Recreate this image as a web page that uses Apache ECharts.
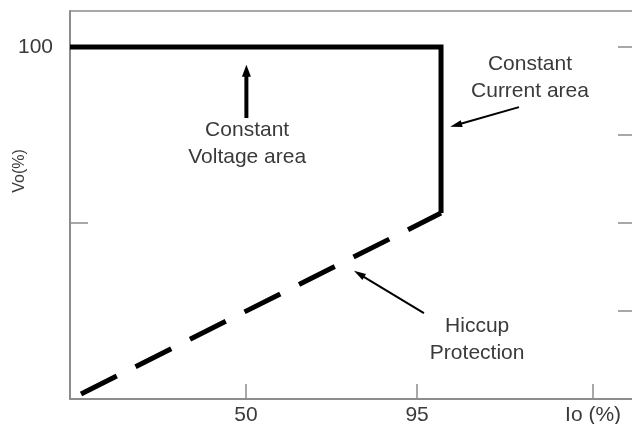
<!DOCTYPE html>
<html>
<head>
<meta charset="utf-8">
<script src="https://cdn.jsdelivr.net/npm/echarts@6/dist/echarts.min.js"></script>
<style>
  html, body { margin: 0; padding: 0; background: #fff; }
  #chart { width: 632px; height: 424px; }
</style>
</head>
<body>
<div id="chart"></div>
<script>
// Output characteristic: constant voltage, constant current, hiccup
const xTickValues = [50, 95, 141.3];
const xTickLabels = ['50', '95', 'Io (%)'];
const yLeftTicks = [50, 100];
const yLabelValues = [100];
const yRightTicks = [25, 50, 75, 100];

// Io (%) , Vo (%)
const cvCurve = [[3.7, 100], [101.3, 100], [101.3, 52.8]];
const hiccupCurve = [[6.6, 1.4], [101.3, 52.8]];

// Arrows: from (x1, y1) to tip (x2, y2), shaft width
const arrows = [
  [50.1, 79.8, 50.1, 94.9, 4],
  [121.8, 82.9, 103.7, 77.3, 2],
  [96.8, 24.4, 78.4, 36.4, 2]
];
// Callout texts at (x, y)
const notes = [
  [50.3, 72.4, 'Constant\nVoltage area'],
  [124.7, 91.2, 'Constant\nCurrent area'],
  [110.8, 16.8, 'Hiccup\nProtection']
];

const FONT = '"Liberation Sans", Arial, sans-serif';
const TEXT = '#3a3a3a';
const AXIS = '#8c8c8c';

const chart = echarts.init(document.getElementById('chart'));

chart.setOption({
  animation: false,
  backgroundColor: '#fff',
  grid: {
    left: 70, top: 11, width: 563, height: 388,
    outerBoundsMode: 'none', containLabel: false,
    show: true, borderColor: AXIS, borderWidth: 1.5, backgroundColor: 'transparent'
  },
  xAxis: {
    type: 'value', min: 3.7, max: 151.8,
    splitLine: { show: false },
    axisLine: { lineStyle: { color: AXIS, width: 2 } },
    axisTick: { inside: true, length: 15, customValues: xTickValues, lineStyle: { color: AXIS, width: 1.5 } },
    axisLabel: {
      customValues: xTickValues,
      formatter: v => xTickLabels[xTickValues.indexOf(v)] ?? '',
      color: TEXT, fontFamily: FONT, fontSize: 21, margin: 6
    }
  },
  yAxis: [
    {
      type: 'value', min: 0, max: 110.2, position: 'left',
      splitLine: { show: false },
      axisLine: { lineStyle: { color: AXIS, width: 2 } },
      axisTick: { inside: true, length: 18, customValues: yLeftTicks, lineStyle: { color: AXIS, width: 1.5 } },
      axisLabel: {
        customValues: yLabelValues,
        color: TEXT, fontFamily: FONT, fontSize: 21, margin: 17
      }
    },
    {
      type: 'value', min: 0, max: 110.2, position: 'right',
      splitLine: { show: false },
      axisLine: { show: false },
      axisTick: { inside: true, length: 15, customValues: yRightTicks, lineStyle: { color: AXIS, width: 1.5 } },
      axisLabel: { show: false }
    }
  ],
  graphic: [{
    type: 'text', x: 20, y: 171, rotation: Math.PI / 2,
    style: { text: 'Vo(%)', fill: TEXT, font: '16px ' + FONT, align: 'center', verticalAlign: 'middle' }
  }],
  series: [
    {
      type: 'line', data: cvCurve, symbol: 'none', silent: true,
      lineStyle: { color: '#000', width: 5, join: 'miter' }
    },
    {
      type: 'line', data: hiccupCurve, symbol: 'none', silent: true,
      lineStyle: { color: '#000', width: 5, type: [40, 21], cap: 'butt' }
    },
    {
      type: 'custom', data: arrows, silent: true,
      encode: { x: [0, 2], y: [1, 3] },
      renderItem: (params, api) => {
        const p1 = api.coord([api.value(0), api.value(1)]);
        const p2 = api.coord([api.value(2), api.value(3)]);
        const w = api.value(4);
        const dx = p2[0] - p1[0], dy = p2[1] - p1[1];
        const len = Math.hypot(dx, dy);
        const ux = dx / len, uy = dy / len;
        const headL = 12, headW = w > 3 ? 4.5 : 3.5;
        const bx = p2[0] - ux * headL, by = p2[1] - uy * headL;
        return {
          type: 'group',
          children: [
            { type: 'line', shape: { x1: p1[0], y1: p1[1], x2: bx + ux, y2: by + uy },
              style: { stroke: '#000', lineWidth: w } },
            { type: 'polygon', shape: { points: [
                p2,
                [bx - uy * headW, by + ux * headW],
                [bx + uy * headW, by - ux * headW]
              ] }, style: { fill: '#000' } }
          ]
        };
      }
    },
    {
      type: 'custom', data: notes, silent: true,
      encode: { x: 0, y: 1 },
      renderItem: (params, api) => {
        const p = api.coord([api.value(0), api.value(1)]);
        return {
          type: 'text', x: p[0], y: p[1],
          style: {
            text: notes[params.dataIndex][2], fill: TEXT,
            font: '21px ' + FONT, lineHeight: 27,
            align: 'center', verticalAlign: 'middle'
          }
        };
      }
    }
  ]
});
</script>
</body>
</html>
